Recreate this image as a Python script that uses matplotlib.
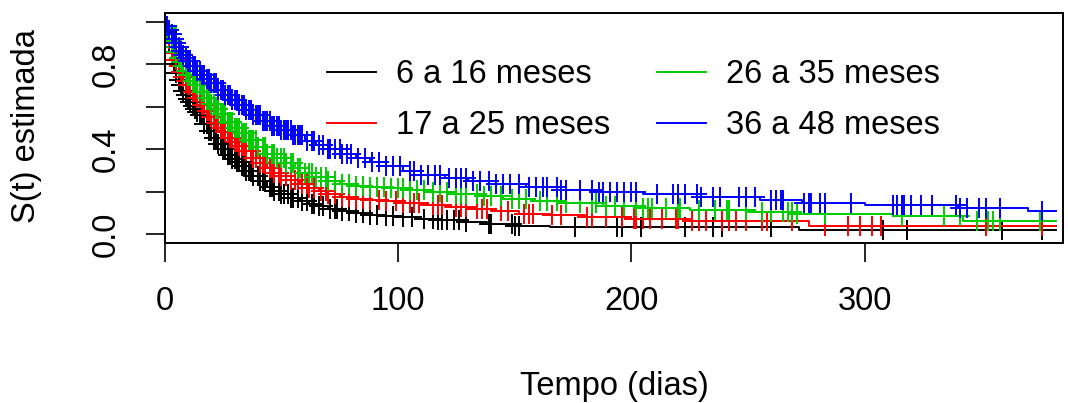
import matplotlib
matplotlib.use("Agg")
import matplotlib.pyplot as plt
import numpy as np

plt.rcParams['font.family'] = ['Liberation Sans', 'DejaVu Sans']

# Kaplan-Meier curves (time in days, S(t) after each step)
labels = ['6 a 16 meses', '17 a 25 meses', '26 a 35 meses', '36 a 48 meses']
colors = ['black', 'red', '#00CD00', 'blue']
t_max = 382

black_t = [0, 1, 2, 3, 4, 5, 6, 7, 8, 9, 10, 11, 12, 13, 14, 15, 17, 19, 21, 23, 25, 27, 29,
           31, 33, 35, 38, 41, 44, 47, 50, 54, 58, 62, 66, 70, 75, 80, 86, 93, 100, 108, 117,
           127, 138, 150, 165, 272]
black_s = [1.0, .95, .90, .85, .80, .76, .725, .70, .675, .655, .635, .62, .605, .59, .575, .56,
           .52, .485, .455, .425, .40, .375, .355, .34, .32, .30, .275, .25, .225, .205, .19,
           .172, .157, .145, .133, .122, .11, .10, .092, .087, .082, .074, .066, .058, .05,
           .042, .033, .02]
black_cens = [1, 2, 3, 4, 5, 6, 7, 8, 9, 10, 11, 12, 13, 14, 15, 16, 17, 18, 19, 20, 21, 22, 23,
              24, 25, 26, 27, 28, 29, 30, 31, 32, 33, 34, 35, 36, 37, 38, 40, 41, 42, 43, 45,
              46, 47, 49, 50, 51, 53, 54, 55, 57, 59, 61, 63, 64, 66, 68, 71, 73, 74, 76, 79,
              82, 85, 88, 91, 95, 98, 102, 106, 111, 115, 117, 119, 121, 124, 126, 129, 139,
              140, 149, 150, 152, 176, 194, 196, 204, 223, 235, 239, 260, 308, 318, 359, 376]

red_t = [0, 1, 2, 3, 4, 5, 6, 7, 8, 9, 10, 12, 14, 16, 18, 20, 22, 24, 26, 28, 30, 32, 35, 38,
         41, 44, 47, 50, 54, 58, 62, 66, 70, 75, 80, 86, 93, 100, 110, 120, 130, 140, 152, 165,
         180, 200, 225, 276]
red_s = [1.0, .96, .92, .88, .85, .82, .79, .765, .74, .72, .70, .67, .64, .61, .58, .55, .525,
         .50, .48, .455, .435, .415, .39, .36, .335, .31, .29, .275, .255, .235, .22, .205, .19,
         .178, .168, .16, .155, .15, .14, .128, .118, .108, .098, .09, .08, .072, .062, .039]
red_cens = [1, 2, 3, 4, 5, 6, 7, 8, 9, 10, 11, 12, 13, 14, 15, 16, 17, 18, 19, 20, 21, 22, 23,
            24, 25, 26, 27, 28, 29, 30, 31, 32, 33, 34, 35, 37, 38, 39, 41, 42, 43, 45, 46, 47,
            49, 50, 52, 54, 56, 57, 59, 61, 62, 64, 67, 69, 70, 73, 76, 79, 82, 85, 88, 92,
            95, 99, 102, 105, 107, 109, 115, 117, 119, 125, 127, 129, 134, 136, 138, 144, 147,
            154, 156, 158, 166, 170, 181, 183, 189, 196, 201, 202, 205, 208, 213, 219, 220,
            226, 229, 232, 239, 242, 245, 249, 256, 258, 269, 283, 293, 298, 303, 307, 352,
            376]

green_t = [0, 1, 2, 3, 4, 5, 6, 7, 8, 9, 10, 12, 14, 16, 18, 20, 22, 24, 27, 30, 33, 36, 40,
           44, 48, 52, 56, 60, 65, 70, 75, 80, 88, 96, 105, 115, 125, 135, 145, 158, 172, 188,
           205, 225, 250, 270, 312, 342]
green_s = [1.0, .97, .94, .91, .88, .855, .83, .81, .79, .77, .75, .72, .70, .67, .64, .615,
           .59, .565, .53, .50, .475, .445, .41, .38, .36, .335, .31, .29, .27, .25, .237,
           .228, .225, .218, .21, .20, .19, .18, .168, .158, .148, .135, .125, .115, .105,
           .094, .085, .065]
green_cens = [1, 2, 3, 4, 5, 6, 7, 8, 9, 10, 11, 12, 13, 14, 15, 16, 17, 18, 19, 20, 21, 22,
              23, 24, 25, 26, 27, 28, 29, 30, 31, 32, 33, 34, 35, 36, 37, 38, 39, 40, 42, 43,
              44, 46, 47, 48, 50, 51, 52, 54, 55, 57, 58, 60, 62, 63, 65, 67, 69, 70, 73, 76,
              79, 82, 85, 88, 91, 94, 97, 100, 102, 105, 108, 111, 115, 118, 121, 125, 127,
              129, 134, 137, 140, 144, 149, 152, 155, 161, 164, 168, 172, 178, 183, 185, 189,
              193, 197, 202, 205, 207, 209, 215, 220, 221, 229, 236, 241, 242, 249, 256, 260,
              265, 267, 269, 271, 283, 316, 334, 341, 348, 353, 355, 358, 375]

blue_t = [0, 1, 2, 3, 4, 5, 6, 7, 8, 9, 10, 12, 14, 16, 18, 20, 23, 26, 29, 32, 35, 38, 42, 46,
          50, 55, 60, 65, 70, 76, 82, 88, 95, 102, 110, 120, 130, 142, 155, 170, 185, 205, 230,
          255, 273, 300, 340, 370]
blue_s = [1.0, .98, .96, .94, .92, .90, .88, .86, .845, .83, .815, .79, .77, .75, .73, .71, .68,
          .655, .63, .61, .585, .56, .535, .51, .49, .465, .44, .42, .40, .38, .36, .34, .32,
          .30, .28, .265, .25, .235, .222, .21, .198, .188, .175, .162, .150, .140, .125, .109]
blue_cens = [1, 2, 3, 4, 5, 6, 7, 8, 9, 10, 11, 12, 13, 14, 15, 16, 17, 18, 19, 20, 21, 22, 23,
             24, 25, 26, 27, 28, 29, 30, 31, 32, 33, 34, 35, 36, 37, 38, 39, 40, 41, 42, 43,
             44, 45, 46, 47, 48, 49, 50, 51, 52, 53, 54, 55, 56, 57, 58, 59, 61, 63, 64, 66,
             68, 70, 71, 73, 75, 76, 78, 80, 83, 86, 89, 92, 95, 98, 101, 105, 107, 110, 113,
             116, 118, 122, 125, 127, 129, 132, 135, 139, 142, 145, 148, 152, 156, 159, 162,
             164, 168, 170, 172, 178, 183, 186, 188, 191, 194, 197, 200, 202, 211, 218, 220,
             223, 228, 230, 235, 238, 246, 249, 253, 260, 262, 264, 265, 274, 276, 277, 281,
             283, 294, 312, 314, 316, 317, 320, 324, 329, 339, 341, 344, 349, 352, 358, 376]

groups = [(black_t, black_s, black_cens), (red_t, red_s, red_cens),
          (green_t, green_s, green_cens), (blue_t, blue_s, blue_cens)]

fig = plt.figure(figsize=(10.68, 4.03), dpi=100)
ax = fig.add_axes([164.6 / 1068, 1 - 243 / 403, (1063 - 164.6) / 1068, (243 - 13) / 403])

handles = []
for (t, s, cens), col, lab in zip(groups, colors, labels):
    t = np.array(t + [t_max])
    s = np.array(s + [s[-1]])
    h, = ax.step(t, s, where='post', color=col, lw=1.4, label=lab)
    handles.append(h)
    cens = np.array(cens)
    idx = np.searchsorted(t, cens, side='right') - 1
    ax.plot(cens, s[idx], ls='none', marker='+', ms=15, mew=1.4, color=col)

ax.set_xlim(0, 385)
ax.set_ylim(-0.04, 1.04)
ax.set_xticks([0, 100, 200, 300])
ax.set_yticks([0, 0.2, 0.4, 0.6, 0.8, 1.0])
ax.set_yticklabels(['0.0', '', '0.4', '', '0.8', ''])
for sp in ax.spines.values():
    sp.set_linewidth(1.4)
ax.tick_params(axis='both', length=14, width=1.2, labelsize=23.5, direction='out')
ax.tick_params(axis='x', pad=17)
ax.tick_params(axis='y', pad=17, labelrotation=90)
plt.setp(ax.get_yticklabels(), va='center')

fig.text(27 / 1068, 1 - 126 / 403, 'S(t) estimada', rotation=90, ha='center', va='center',
         fontsize=23.5)
fig.text(614 / 1068, 1 - 386 / 403, 'Tempo (dias)', ha='center', va='center', fontsize=23.5)

ax.legend(handles=handles, ncol=2, frameon=False, loc='upper left',
          bbox_to_anchor=(327 / 1068, 1 - 59 / 403), bbox_transform=fig.transFigure,
          borderpad=0, borderaxespad=0, handlelength=1.5, handletextpad=0.6,
          columnspacing=1.45, labelspacing=0.62, fontsize=23.5)

fig.savefig('out.png', dpi=100)
